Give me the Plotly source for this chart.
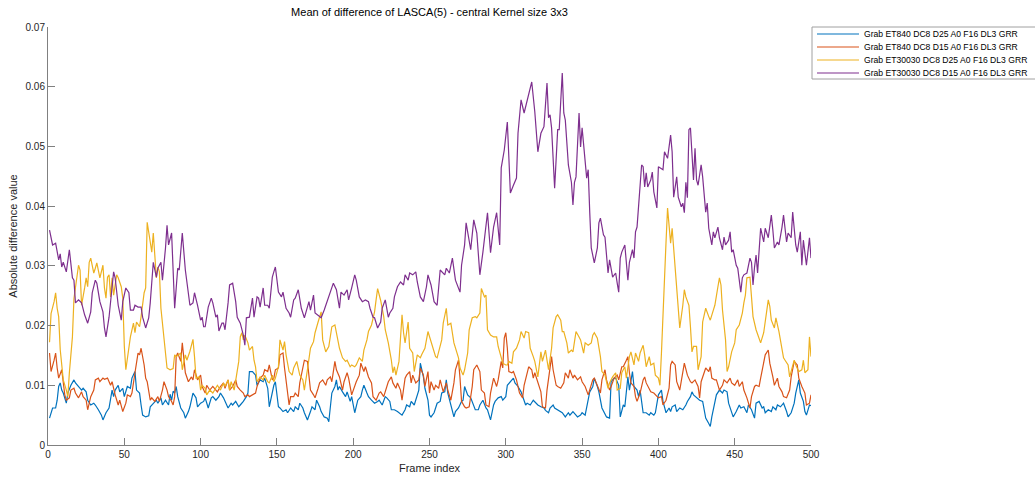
import plotly.graph_objects as go

# ---------------- data ----------------
series_names = [
    "Grab ET840 DC8 D25 A0 F16 DL3 GRR",
    "Grab ET840 DC8 D15 A0 F16 DL3 GRR",
    "Grab ET30030 DC8 D25 A0 F16 DL3 GRR",
    "Grab ET30030 DC8 D15 A0 F16 DL3 GRR",
]

blue = [(1,0.0045),(3,0.0062),(5,0.0062),(6,0.0075),(7,0.0098),(8,0.0104),(9,0.0092),(10,0.0087),(12,0.007),(13,0.0087),(15,0.01),(17,0.0109),(18,0.0104),(20,0.0098),(22,0.0092),(23,0.0095),(25,0.0089),(26,0.0075),(28,0.0067),(30,0.007),(31,0.0067),(33,0.0059),(35,0.005),(36,0.0042),(38,0.0054),(40,0.0062),(41,0.0075),(42,0.0092),(43,0.0081),(44,0.0092),(46,0.01),(47,0.0089),(49,0.0095),(50,0.0081),(52,0.0098),(54,0.0095),(55,0.0112),(57,0.0123),(58,0.0092),(60,0.0087),(61,0.0067),(62,0.005),(64,0.0047),(66,0.0049),(67,0.0064),(69,0.007),(71,0.0075),(72,0.007),(74,0.0079),(75,0.0067),(77,0.0075),(79,0.0067),(80,0.0085),(81,0.0075),(82,0.009),(83,0.0087),(84,0.0098),(85,0.0081),(87,0.0062),(89,0.0054),(90,0.0045),(92,0.0056),(93,0.0064),(95,0.0087),(97,0.0079),(98,0.0064),(100,0.007),(102,0.0073),(103,0.0079),(105,0.0062),(107,0.0079),(108,0.0081),(110,0.0075),(112,0.0081),(113,0.0087),(115,0.0079),(117,0.0067),(118,0.0062),(120,0.007),(121,0.0067),(123,0.0073),(125,0.0064),(126,0.0067),(128,0.0073),(130,0.0081),(131,0.0087),(132,0.0123),(134,0.0123),(136,0.0117),(137,0.01),(139,0.0109),(141,0.0106),(142,0.0112),(144,0.0095),(145,0.0064),(147,0.0092),(148,0.01),(149,0.0106),(151,0.0064),(152,0.0062),(154,0.0056),(156,0.0059),(157,0.0054),(159,0.0062),(161,0.0056),(162,0.0064),(164,0.0059),(165,0.007),(167,0.0062),(168,0.0054),(170,0.0042),(172,0.0056),(173,0.0064),(175,0.0059),(176,0.0075),(178,0.0064),(179,0.0056),(181,0.0047),(183,0.0045),(184,0.0039),(185,0.0067),(186,0.0087),(188,0.0098),(189,0.0109),(190,0.0092),(191,0.0098),(193,0.0089),(195,0.0081),(196,0.0089),(198,0.0073),(199,0.0081),(201,0.0054),(203,0.0075),(205,0.0081),(206,0.0092),(207,0.01),(209,0.0087),(210,0.0081),(212,0.0075),(214,0.007),(216,0.0073),(217,0.0075),(219,0.0067),(221,0.0081),(222,0.0079),(224,0.0073),(225,0.0059),(227,0.0059),(229,0.0056),(230,0.0054),(232,0.005),(234,0.0059),(235,0.0067),(237,0.0064),(238,0.0073),(240,0.0067),(242,0.0084),(243,0.0092),(244,0.0137),(246,0.0114),(247,0.0095),(249,0.0075),(250,0.005),(251,0.0047),(253,0.0054),(255,0.007),(257,0.0073),(258,0.0087),(260,0.0089),(261,0.0109),(262,0.0087),(264,0.0067),(266,0.0047),(267,0.0056),(269,0.0062),(271,0.0073),(272,0.0075),(273,0.0098),(275,0.0084),(277,0.0079),(279,0.0067),(280,0.0059),(282,0.0059),(283,0.0067),(285,0.0075),(287,0.0062),(288,0.0059),(290,0.0042),(292,0.0067),(293,0.0073),(295,0.0079),(297,0.0081),(298,0.0075),(300,0.0081),(301,0.01),(303,0.0106),(305,0.0112),(306,0.0104),(308,0.0098),(310,0.0089),(311,0.0081),(313,0.0067),(314,0.007),(316,0.0067),(318,0.0075),(320,0.007),(321,0.0067),(323,0.0064),(325,0.0062),(326,0.0058),(328,0.0054),(329,0.0062),(331,0.0067),(332,0.0062),(334,0.0059),(336,0.0056),(337,0.0054),(339,0.0047),(341,0.0054),(342,0.005),(344,0.0056),(346,0.005),(347,0.0047),(349,0.005),(350,0.0054),(352,0.005),(354,0.0075),(355,0.0089),(357,0.0098),(358,0.0112),(360,0.0098),(361,0.0089),(363,0.0062),(365,0.005),(366,0.0047),(368,0.0045),(369,0.0106),(371,0.0112),(372,0.0112),(374,0.01),(375,0.0047),(377,0.0067),(378,0.0064),(380,0.0114),(381,0.0092),(383,0.0123),(384,0.0098),(386,0.0092),(387,0.0081),(388,0.0092),(390,0.0054),(392,0.0054),(394,0.005),(395,0.0054),(397,0.005),(398,0.0054),(400,0.0084),(402,0.0092),(403,0.0073),(405,0.0054),(407,0.0062),(408,0.0056),(409,0.0064),(411,0.0067),(412,0.0056),(414,0.0062),(416,0.0059),(418,0.0067),(419,0.0073),(421,0.0081),(422,0.0089),(423,0.0084),(425,0.0079),(427,0.0075),(429,0.0073),(430,0.0059),(431,0.0045),(433,0.0036),(434,0.0031),(435,0.0047),(437,0.007),(438,0.0084),(440,0.0092),(442,0.0087),(443,0.0092),(445,0.0089),(446,0.007),(448,0.0054),(449,0.0047),(451,0.0056),(453,0.0067),(454,0.0062),(456,0.0064),(458,0.0054),(459,0.0067),(461,0.0059),(463,0.0045),(464,0.007),(466,0.0073),(468,0.0062),(469,0.0064),(470,0.0054),(472,0.0059),(474,0.0056),(475,0.0064),(477,0.0059),(478,0.0067),(480,0.0064),(482,0.007),(484,0.0056),(485,0.0047),(487,0.0054),(489,0.007),(490,0.0087),(492,0.0109),(493,0.0087),(495,0.0073),(496,0.0056),(497,0.005),(499,0.0067),(500,0.0066)]

orange = [(1,0.0154),(2,0.0123),(4,0.0142),(5,0.0154),(6,0.0129),(7,0.0112),(9,0.0126),(10,0.0104),(11,0.0084),(12,0.0075),(14,0.0079),(15,0.0092),(17,0.0095),(18,0.0087),(20,0.0079),(22,0.0089),(23,0.0081),(25,0.0075),(26,0.0059),(28,0.0081),(30,0.0092),(31,0.0109),(33,0.0112),(34,0.0106),(36,0.0112),(37,0.011),(39,0.0112),(41,0.01),(42,0.0106),(44,0.0084),(46,0.0067),(47,0.0075),(49,0.0056),(51,0.007),(52,0.0084),(54,0.0081),(55,0.0087),(57,0.0121),(59,0.0154),(60,0.0151),(61,0.0162),(63,0.0134),(64,0.0112),(65,0.0106),(67,0.0075),(68,0.0079),(70,0.0073),(72,0.0081),(73,0.0073),(75,0.0092),(76,0.0106),(78,0.0092),(79,0.0081),(81,0.0073),(82,0.0067),(83,0.0081),(84,0.0148),(85,0.0154),(87,0.014),(88,0.0171),(89,0.0148),(90,0.0121),(92,0.0106),(94,0.0114),(95,0.0109),(96,0.0126),(98,0.0109),(100,0.0117),(101,0.0098),(103,0.0087),(104,0.01),(106,0.0092),(108,0.0098),(109,0.0095),(111,0.0089),(113,0.0098),(115,0.0104),(116,0.0095),(118,0.0109),(119,0.0092),(121,0.0098),(123,0.0109),(124,0.0098),(126,0.0092),(128,0.0087),(129,0.0081),(131,0.0084),(132,0.0081),(134,0.0084),(136,0.0087),(137,0.0098),(139,0.0112),(141,0.0117),(142,0.0126),(144,0.0123),(145,0.0134),(147,0.0109),(148,0.0112),(149,0.0126),(151,0.0129),(152,0.0151),(154,0.0154),(155,0.0129),(156,0.0106),(158,0.0067),(159,0.0081),(161,0.0081),(162,0.0087),(164,0.0081),(165,0.0104),(167,0.0131),(168,0.0142),(170,0.014),(171,0.0112),(172,0.0092),(174,0.0084),(175,0.0079),(177,0.0095),(178,0.0104),(180,0.0109),(182,0.01),(183,0.0109),(185,0.0114),(186,0.0106),(188,0.014),(189,0.0126),(191,0.0114),(193,0.0092),(194,0.0106),(196,0.0121),(197,0.0112),(199,0.0084),(201,0.01),(202,0.0106),(204,0.0117),(205,0.0137),(207,0.0123),(208,0.0131),(210,0.0114),(212,0.0104),(213,0.0081),(215,0.0075),(217,0.0087),(218,0.0089),(220,0.0081),(221,0.0089),(223,0.0106),(225,0.0114),(226,0.0104),(228,0.0095),(229,0.0104),(231,0.0092),(232,0.0075),(234,0.0112),(235,0.0117),(237,0.0123),(238,0.0104),(239,0.0117),(241,0.0104),(243,0.0109),(244,0.0129),(246,0.0117),(247,0.0098),(249,0.0123),(250,0.0087),(251,0.0106),(253,0.0092),(254,0.01),(256,0.0095),(257,0.0109),(259,0.0089),(261,0.0104),(262,0.0092),(264,0.0075),(266,0.0104),(267,0.0126),(269,0.0142),(270,0.0112),(271,0.0073),(273,0.0064),(274,0.0062),(276,0.0064),(278,0.0098),(279,0.0126),(281,0.0134),(283,0.0123),(284,0.0092),(286,0.0087),(287,0.0067),(289,0.0064),(290,0.0087),(292,0.0112),(294,0.0098),(295,0.0109),(297,0.014),(298,0.0129),(299,0.0179),(300,0.0188),(301,0.0162),(302,0.0123),(304,0.0121),(305,0.0123),(307,0.0109),(309,0.0087),(311,0.0079),(312,0.01),(313,0.0112),(315,0.0131),(317,0.0126),(318,0.0112),(319,0.0121),(321,0.0106),(323,0.0089),(324,0.0064),(326,0.0062),(327,0.0092),(328,0.0112),(329,0.0126),(330,0.0148),(331,0.0126),(333,0.01),(334,0.0098),(336,0.0095),(338,0.0104),(339,0.0121),(341,0.0112),(342,0.0126),(344,0.0112),(345,0.0117),(347,0.0109),(349,0.0114),(350,0.0106),(352,0.0098),(354,0.0084),(355,0.0092),(357,0.0109),(358,0.0112),(360,0.0098),(362,0.0087),(363,0.0109),(365,0.0126),(366,0.0109),(368,0.0092),(369,0.0098),(371,0.0112),(373,0.0117),(374,0.0109),(376,0.0131),(377,0.0131),(379,0.0142),(380,0.0148),(381,0.0121),(382,0.0104),(384,0.0098),(385,0.0081),(386,0.0073),(388,0.0087),(390,0.0109),(391,0.0114),(392,0.0104),(394,0.0092),(395,0.0089),(397,0.0087),(398,0.0084),(400,0.0079),(402,0.0081),(403,0.0067),(405,0.0075),(407,0.0095),(408,0.0134),(409,0.014),(411,0.0134),(412,0.0106),(414,0.0092),(416,0.0121),(417,0.0137),(419,0.0117),(421,0.0106),(422,0.0104),(424,0.0109),(426,0.0098),(427,0.0079),(428,0.0106),(430,0.0121),(431,0.0129),(433,0.0123),(434,0.0131),(435,0.0112),(437,0.0109),(438,0.0109),(440,0.0092),(442,0.01),(443,0.0109),(445,0.0104),(447,0.0112),(448,0.0104),(450,0.01),(452,0.0109),(453,0.0098),(455,0.0106),(456,0.0092),(458,0.0079),(460,0.0062),(461,0.0081),(463,0.0098),(464,0.01),(466,0.0098),(467,0.0112),(469,0.0137),(470,0.0151),(472,0.0159),(473,0.0137),(475,0.0114),(476,0.01),(478,0.0112),(479,0.0098),(481,0.0089),(482,0.0081),(484,0.0079),(486,0.0092),(487,0.0114),(489,0.014),(491,0.0134),(492,0.0112),(494,0.0098),(496,0.0087),(497,0.0067),(499,0.007),(500,0.0084)]

yellow = [(1,0.0172),(2,0.022),(4,0.024),(5,0.0255),(6,0.0229),(7,0.0215),(8,0.016),(10,0.0109),(12,0.0092),(13,0.0081),(14,0.0121),(16,0.0181),(17,0.0245),(20,0.0301),(21,0.0293),(22,0.0234),(24,0.0263),(25,0.028),(26,0.0265),(27,0.0306),(28,0.0313),(30,0.0288),(31,0.0296),(32,0.0305),(34,0.028),(36,0.0301),(37,0.0263),(38,0.0246),(39,0.0281),(40,0.0285),(41,0.0248),(42,0.028),(43,0.0251),(45,0.0285),(46,0.028),(48,0.0265),(49,0.0246),(50,0.0166),(51,0.0126),(53,0.0162),(54,0.0181),(56,0.0204),(57,0.0188),(58,0.0206),(60,0.0198),(61,0.0215),(62,0.0232),(63,0.0255),(64,0.0263),(65,0.0373),(67,0.034),(68,0.0323),(69,0.0355),(70,0.031),(71,0.028),(72,0.0298),(73,0.029),(74,0.0229),(76,0.0175),(77,0.0148),(78,0.0129),(80,0.0126),(82,0.0128),(83,0.0151),(84,0.0148),(87,0.0154),(88,0.0126),(90,0.0151),(91,0.0142),(93,0.0157),(95,0.0177),(96,0.0148),(97,0.0112),(99,0.0114),(100,0.0092),(101,0.01),(103,0.0095),(104,0.0084),(106,0.0092),(108,0.0087),(109,0.0092),(111,0.01),(113,0.0092),(115,0.0104),(116,0.0098),(118,0.0109),(119,0.0092),(120,0.0106),(122,0.0092),(124,0.0121),(125,0.014),(126,0.0181),(127,0.0188),(128,0.0176),(129,0.0184),(131,0.0171),(132,0.0159),(134,0.0165),(135,0.0142),(136,0.0131),(137,0.0106),(139,0.0114),(141,0.0109),(142,0.0117),(144,0.0106),(145,0.0104),(147,0.0117),(148,0.0106),(149,0.0112),(151,0.0131),(152,0.0176),(154,0.0159),(155,0.0173),(156,0.0151),(158,0.0123),(160,0.0117),(161,0.0129),(163,0.014),(165,0.0117),(167,0.0109),(168,0.0092),(170,0.0126),(171,0.0148),(172,0.0162),(174,0.0173),(175,0.0188),(177,0.0206),(179,0.0223),(180,0.0176),(182,0.0156),(184,0.0165),(185,0.0181),(186,0.0198),(188,0.0201),(190,0.0176),(191,0.0162),(193,0.0146),(195,0.014),(196,0.0142),(198,0.0131),(199,0.0134),(201,0.0131),(202,0.0134),(204,0.0146),(206,0.014),(207,0.0159),(209,0.0176),(210,0.019),(212,0.0201),(214,0.0223),(215,0.0243),(216,0.0262),(218,0.0242),(220,0.0215),(221,0.0193),(223,0.0171),(225,0.0142),(226,0.0121),(227,0.0131),(228,0.0117),(230,0.014),(231,0.0176),(232,0.0218),(233,0.0188),(234,0.0171),(236,0.0206),(237,0.0162),(239,0.0154),(240,0.0123),(242,0.0151),(244,0.0146),(245,0.0152),(247,0.0162),(249,0.019),(250,0.0181),(252,0.0165),(254,0.0148),(255,0.0146),(257,0.0165),(258,0.0176),(259,0.0204),(261,0.0229),(262,0.0201),(264,0.0204),(266,0.0171),(267,0.0162),(269,0.0146),(270,0.0129),(272,0.0117),(273,0.0126),(275,0.0154),(276,0.0193),(278,0.0213),(280,0.0215),(281,0.0213),(283,0.0221),(284,0.0262),(286,0.0248),(287,0.0251),(288,0.0193),(290,0.0184),(292,0.0181),(294,0.0181),(295,0.0165),(297,0.0148),(298,0.0137),(300,0.0134),(301,0.0134),(302,0.014),(304,0.0137),(305,0.0156),(307,0.0162),(309,0.0176),(310,0.019),(312,0.0179),(313,0.019),(315,0.0188),(316,0.0162),(318,0.0148),(319,0.014),(321,0.0114),(323,0.0156),(324,0.014),(326,0.0159),(327,0.0142),(328,0.0126),(330,0.0162),(331,0.0196),(333,0.0215),(334,0.0218),(336,0.0209),(337,0.019),(338,0.019),(340,0.0171),(341,0.0154),(343,0.0159),(344,0.0156),(346,0.019),(348,0.0181),(349,0.0176),(351,0.0154),(352,0.0171),(354,0.0167),(356,0.0171),(357,0.0184),(358,0.0188),(360,0.0179),(362,0.0148),(363,0.0123),(365,0.0117),(367,0.0095),(368,0.0104),(370,0.0114),(372,0.0121),(373,0.0092),(375,0.0095),(376,0.0121),(378,0.0131),(379,0.0112),(381,0.0148),(382,0.0156),(384,0.0134),(385,0.0154),(387,0.014),(388,0.0154),(390,0.0167),(391,0.0151),(392,0.0131),(394,0.0148),(395,0.0134),(397,0.0137),(398,0.0117),(400,0.0112),(401,0.01),(402,0.0154),(403,0.0226),(405,0.034),(406,0.0397),(408,0.0338),(409,0.0363),(410,0.033),(411,0.0306),(412,0.0263),(413,0.0229),(414,0.0196),(416,0.0234),(417,0.026),(418,0.0248),(420,0.0234),(421,0.0198),(422,0.0156),(423,0.0165),(425,0.0165),(426,0.0126),(428,0.0148),(429,0.0206),(431,0.0229),(433,0.0215),(434,0.0209),(436,0.0226),(437,0.0234),(439,0.0265),(440,0.028),(441,0.0268),(442,0.0226),(444,0.0176),(445,0.0123),(446,0.0131),(448,0.0156),(450,0.0171),(451,0.0193),(453,0.0201),(455,0.0221),(456,0.0238),(457,0.0251),(458,0.028),(460,0.0281),(461,0.0248),(462,0.0215),(464,0.0193),(466,0.0176),(467,0.0171),(469,0.0188),(471,0.0221),(472,0.0243),(473,0.0232),(474,0.0209),(476,0.0196),(477,0.0213),(479,0.019),(480,0.0176),(482,0.0146),(483,0.0142),(485,0.0134),(486,0.0114),(488,0.0134),(489,0.0142),(490,0.0134),(492,0.0123),(494,0.0126),(495,0.0142),(496,0.0121),(498,0.0126),(499,0.0181),(500,0.0148)]

purple = [(1,0.036),(3,0.0335),(5,0.0338),(7,0.031),(8,0.032),(9,0.0298),(10,0.0306),(12,0.029),(14,0.0327),(16,0.028),(17,0.0276),(18,0.0238),(20,0.0243),(22,0.0238),(24,0.0218),(26,0.0204),(28,0.0223),(29,0.0255),(31,0.0276),(32,0.0271),(34,0.024),(36,0.0223),(37,0.0196),(38,0.0181),(40,0.0214),(41,0.0238),(43,0.029),(44,0.028),(46,0.0234),(48,0.0209),(49,0.024),(51,0.0263),(53,0.0255),(54,0.0226),(56,0.0226),(57,0.0234),(59,0.0231),(61,0.0231),(62,0.0214),(64,0.0196),(66,0.0213),(67,0.0238),(69,0.0306),(71,0.0281),(72,0.0296),(74,0.0306),(75,0.0276),(77,0.033),(78,0.0368),(79,0.0335),(81,0.0355),(83,0.0229),(85,0.0296),(86,0.0293),(88,0.0355),(90,0.0293),(92,0.0255),(93,0.0234),(95,0.0238),(96,0.0255),(98,0.0234),(100,0.0209),(101,0.0214),(102,0.0198),(103,0.0198),(105,0.0231),(107,0.0246),(108,0.0238),(110,0.0214),(111,0.0218),(112,0.0191),(114,0.0204),(115,0.0204),(116,0.0193),(118,0.0238),(119,0.0268),(121,0.0271),(123,0.024),(124,0.0214),(126,0.0204),(128,0.0184),(129,0.0167),(130,0.0213),(131,0.0214),(132,0.0214),(134,0.0246),(135,0.0214),(137,0.0248),(138,0.0246),(139,0.0231),(141,0.0263),(142,0.0234),(144,0.0234),(145,0.0229),(147,0.0281),(148,0.029),(149,0.0298),(151,0.0256),(153,0.0248),(154,0.0256),(156,0.0229),(158,0.0221),(159,0.0214),(161,0.0243),(162,0.0246),(164,0.026),(166,0.0229),(168,0.0213),(171,0.024),(172,0.0226),(174,0.0251),(175,0.0221),(178,0.0214),(179,0.0213),(181,0.0226),(183,0.024),(185,0.0256),(187,0.0271),(189,0.026),(191,0.0229),(192,0.0256),(194,0.0251),(196,0.026),(197,0.0243),(199,0.0263),(201,0.0285),(202,0.0276),(204,0.0248),(206,0.024),(208,0.0243),(210,0.024),(211,0.0229),(213,0.0214),(214,0.0213),(216,0.0196),(218,0.0206),(219,0.0229),(221,0.0243),(223,0.0214),(224,0.0221),(226,0.0229),(227,0.0248),(229,0.0265),(231,0.0273),(233,0.0268),(234,0.0285),(236,0.0276),(237,0.0288),(239,0.0285),(241,0.029),(242,0.0273),(244,0.0248),(246,0.024),(248,0.0265),(249,0.0285),(251,0.0268),(253,0.024),(255,0.0234),(257,0.0293),(260,0.0285),(261,0.0296),(263,0.0288),(265,0.0313),(267,0.0276),(270,0.0256),(271,0.0301),(273,0.0335),(274,0.0372),(277,0.0327),(279,0.0377),(281,0.0355),(283,0.0285),(285,0.0323),(288,0.0389),(290,0.0322),(292,0.0365),(294,0.0389),(296,0.0335),(297,0.0464),(299,0.0494),(301,0.0541),(303,0.0422),(305,0.0435),(307,0.0447),(308,0.0522),(310,0.0578),(312,0.0556),(314,0.0578),(315,0.0591),(317,0.0608),(319,0.0558),(321,0.0491),(323,0.0522),(325,0.0533),(327,0.0606),(328,0.0548),(329,0.0553),(330,0.0531),(332,0.043),(334,0.0528),(335,0.0528),(337,0.0623),(338,0.0556),(339,0.0544),(341,0.0469),(343,0.044),(344,0.0402),(345,0.044),(346,0.0449),(348,0.0556),(349,0.0499),(350,0.0531),(353,0.0447),(354,0.0461),(355,0.039),(356,0.033),(358,0.0305),(360,0.033),(361,0.0372),(362,0.038),(364,0.0352),(365,0.0348),(367,0.0288),(368,0.031),(370,0.0281),(372,0.0288),(373,0.0271),(374,0.0256),(375,0.0313),(376,0.0323),(378,0.0335),(380,0.0276),(381,0.0306),(383,0.0327),(384,0.0313),(385,0.0357),(386,0.0365),(388,0.043),(389,0.0469),(390,0.0466),(391,0.0432),(392,0.0456),(393,0.0432),(395,0.0444),(396,0.0457),(397,0.0424),(399,0.0397),(400,0.0466),(401,0.0464),(403,0.0461),(404,0.0491),(406,0.048),(408,0.0519),(409,0.0491),(410,0.0415),(412,0.0449),(413,0.0415),(415,0.0399),(416,0.0405),(417,0.0389),(418,0.044),(419,0.0414),(420,0.0528),(421,0.0531),(423,0.0444),(424,0.0497),(425,0.0444),(426,0.0435),(428,0.0469),(429,0.0449),(431,0.039),(432,0.0405),(433,0.0363),(435,0.0335),(436,0.0357),(437,0.0347),(439,0.0365),(440,0.0347),(442,0.0327),(443,0.0348),(444,0.0335),(446,0.0343),(447,0.0357),(448,0.0323),(449,0.0327),(451,0.0301),(452,0.0296),(454,0.0256),(455,0.028),(456,0.0285),(458,0.0288),(460,0.0313),(461,0.0306),(462,0.0268),(463,0.0298),(464,0.0318),(465,0.0288),(466,0.0323),(467,0.0363),(469,0.034),(470,0.0363),(472,0.0347),(474,0.0385),(475,0.036),(476,0.033),(478,0.034),(479,0.0335),(481,0.0365),(482,0.0385),(484,0.034),(485,0.0355),(487,0.0347),(488,0.039),(490,0.0335),(491,0.0323),(493,0.0357),(494,0.0301),(495,0.0343),(497,0.0301),(499,0.0347),(500,0.0313)]

x_ticks = [0, 50, 100, 150, 200, 250, 300, 350, 400, 450, 500]
y_ticks = [0, 0.01, 0.02, 0.03, 0.04, 0.05, 0.06, 0.07]
y_tick_labels = ["0", "0.01", "0.02", "0.03", "0.04", "0.05", "0.06", "0.07"]

colors = ["#0072BD", "#D95319", "#EDB120", "#7E2F8E"]

# ---------------- figure ----------------
W, H = 1035, 479
L, R, T, B = 48, 224, 27, 34
plot_w = W - L - R
plot_h = H - T - B


def px_x(p):
    return (p - L) / plot_w


def px_y(p):
    return (H - B - p) / plot_h


fig = go.Figure()
for name, data, col in zip(series_names, [blue, orange, yellow, purple], colors):
    fig.add_trace(go.Scatter(
        x=[p[0] for p in data], y=[p[1] for p in data],
        mode="lines", name=name,
        line=dict(color=col, width=1.2),
    ))

axis_color = "#808080"
font_family = "Liberation Sans, Arial, Helvetica, sans-serif"

# legend drawn as a box with line samples and real text entries
shapes = [dict(type="rect", xref="paper", yref="paper",
               x0=px_x(812), x1=px_x(1045), y0=px_y(79), y1=px_y(27),
               line=dict(color="#a0a0a0", width=1), fillcolor="white", layer="above")]
annotations = []
for i, (name, col) in enumerate(zip(series_names, colors)):
    yc = 34 + 13 * i
    shapes.append(dict(type="line", xref="paper", yref="paper",
                       x0=px_x(817), x1=px_x(859), y0=px_y(yc), y1=px_y(yc),
                       line=dict(color=col, width=1.2), layer="above"))
    annotations.append(dict(text=name, xref="paper", yref="paper",
                            x=px_x(862), y=px_y(yc), xanchor="left", yanchor="middle",
                            showarrow=False, font=dict(size=8.6, color="black")))

fig.update_layout(
    width=W, height=H,
    margin=dict(l=L, r=R, t=T, b=B, autoexpand=False),
    paper_bgcolor="white", plot_bgcolor="white",
    font=dict(family=font_family, size=10, color="#262626"),
    title=dict(text="Mean of difference of LASCA(5) - central Kernel size 3x3",
               x=0.5, xref="paper", xanchor="center",
               y=1 - 12 / H, yref="container", yanchor="middle",
               font=dict(size=11, color="black")),
    showlegend=False,
    shapes=shapes,
    annotations=annotations,
    xaxis=dict(range=[0, 500], tickvals=x_ticks,
               showline=True, linecolor=axis_color, linewidth=1,
               ticks="inside", ticklen=7, tickcolor=axis_color, tickwidth=1,
               showgrid=False, zeroline=False, mirror=False,
               title=dict(text="Frame index", font=dict(size=11, color="#262626"), standoff=5),
               tickfont=dict(size=10, color="#262626")),
    yaxis=dict(range=[0, 0.07], tickvals=y_ticks, ticktext=y_tick_labels,
               showline=True, linecolor=axis_color, linewidth=1,
               ticks="inside", ticklen=7, tickcolor=axis_color, tickwidth=1,
               showgrid=False, zeroline=False, mirror=False,
               title=dict(text="Absolute difference value", font=dict(size=11, color="#262626"), standoff=5),
               tickfont=dict(size=10, color="#262626")),
)

fig.write_html("out.html",
               config={"displayModeBar": False},
               post_script="document.body.style.margin='0';document.body.style.overflow='hidden';")
